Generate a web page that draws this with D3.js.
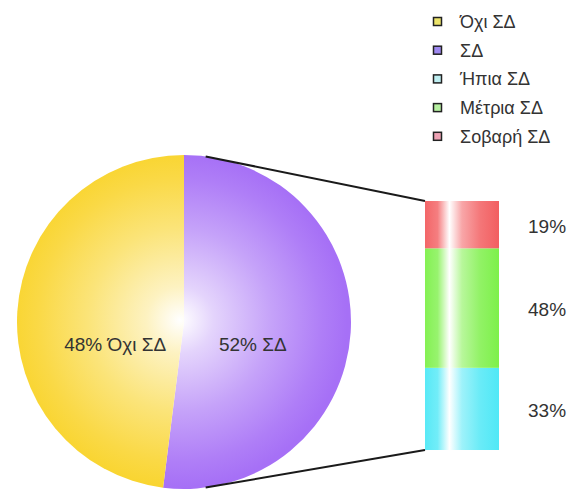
<!DOCTYPE html>
<html>
<head>
<meta charset="utf-8">
<script src="https://cdn.jsdelivr.net/npm/d3@7"></script>
<style>
  body { margin: 0; background: #fff; }
  svg { display: block; font-family: "Liberation Sans", Arial, sans-serif; }
</style>
</head>
<body>
<svg id="chart"></svg>
<script>
var width = 569;
var height = 491;

// main pie
var pieCats = ["Όχι ΣΔ", "ΣΔ"];
var pieVals = [48, 52];
var pieColors = ["#f9d531", "#a670f6"];

// breakdown of ΣΔ (bottom to top)
var barCats = ["Ήπια ΣΔ", "Μέτρια ΣΔ", "Σοβαρή ΣΔ"];
var barVals = [33, 48, 19];
var barColors = ["#4fe8f6", "#7df04a", "#f25e60"];

// legend
var legendCats = ["Όχι ΣΔ", "ΣΔ", "Ήπια ΣΔ", "Μέτρια ΣΔ", "Σοβαρή ΣΔ"];
var legendColors = ["#ece46a", "#9e88f0", "#bfeff2", "#b6f0a0", "#eea2b4"];

var svg = d3.select("#chart").attr("width", width).attr("height", height);
var defs = svg.append("defs");

var cx = 184, cy = 322, r = 167;

// radial gradients for the pie (coords are relative to the pie group)
pieColors.forEach(function (c, i) {
    var g = defs.append("radialGradient")
        .attr("id", "pg" + i)
        .attr("gradientUnits", "userSpaceOnUse")
        .attr("cx", -4).attr("cy", -2).attr("r", r);
    var mix = d3.interpolateRgb("#ffffff", c);
    [[0, 0], [0.2, 0.3], [0.55, 0.65], [0.85, 0.9], [1, 1]].forEach(function (s) {
        g.append("stop").attr("offset", s[0]).attr("stop-color", mix(s[1]));
    });
});

// pie: ΣΔ starts at 12 o'clock going clockwise, Όχι ΣΔ fills the rest
var pie = d3.pie().sort(null).value(function (i) { return pieVals[i]; });
var arcs = pie([1, 0]);
var arc = d3.arc().innerRadius(0).outerRadius(r);

var pieG = svg.append("g").attr("transform", "translate(" + cx + "," + cy + ")");
pieG.selectAll("path")
    .data(arcs)
    .enter()
    .append("path")
    .attr("d", arc)
    .attr("fill", function (d) { return "url(#pg" + d.data + ")"; });

var labelArc = d3.arc().innerRadius(69).outerRadius(69);
pieG.selectAll("text")
    .data(arcs)
    .enter()
    .append("text")
    .attr("x", function (d) { return labelArc.centroid(d)[0]; })
    .attr("y", 29)
    .attr("text-anchor", "middle")
    .style("font-size", "19px")
    .style("fill", "#333")
    .text(function (d) { return pieVals[d.data] + "% " + pieCats[d.data]; });

// stacked bar
var barX = 425, barW = 74;
var y = d3.scaleLinear().domain([0, 100]).range([450, 201]);
var stack = [];
var acc = 0;
barVals.forEach(function (v, i) {
    stack.push({ i: i, y0: acc, y1: acc + v });
    acc += v;
});

barColors.forEach(function (c, i) {
    var g = defs.append("linearGradient")
        .attr("id", "bg" + i)
        .attr("x1", 0).attr("x2", 1).attr("y1", 0).attr("y2", 0);
    var mix = d3.interpolateRgb("#ffffff", c);
    [[0, 0.95], [0.17, 0.8], [0.33, 0], [0.5, 0.55], [0.75, 0.85], [1, 1]].forEach(function (s) {
        g.append("stop").attr("offset", s[0]).attr("stop-color", mix(s[1]));
    });
});

svg.append("g").selectAll("rect")
    .data(stack)
    .enter()
    .append("rect")
    .attr("x", barX)
    .attr("width", barW)
    .attr("y", function (d) { return y(d.y1); })
    .attr("height", function (d) { return y(d.y0) - y(d.y1); })
    .attr("fill", function (d) { return "url(#bg" + d.i + ")"; });

svg.append("g").selectAll("text")
    .data(stack)
    .enter()
    .append("text")
    .attr("x", 528)
    .attr("y", function (d) { return y((d.y0 + d.y1) / 2) + 8; })
    .style("font-size", "19px")
    .style("fill", "#333")
    .text(function (d) { return barVals[d.i] + "%"; });

// connector lines from the ΣΔ slice to the bar
var off = 0.13;
var pTop = [cx + r * Math.sin(off), cy - r * Math.cos(off)];
var pBot = [cx + r * Math.sin(Math.PI - off), cy - r * Math.cos(Math.PI - off)];
svg.append("line")
    .attr("x1", pTop[0]).attr("y1", pTop[1])
    .attr("x2", barX).attr("y2", y(100))
    .attr("stroke", "#1a1a1a").attr("stroke-width", 2);
svg.append("line")
    .attr("x1", pBot[0]).attr("y1", pBot[1])
    .attr("x2", barX).attr("y2", y(0))
    .attr("stroke", "#1a1a1a").attr("stroke-width", 2);

// legend
var leg = svg.append("g").attr("transform", "translate(433,22)");
var row = leg.selectAll("g")
    .data(legendCats)
    .enter()
    .append("g")
    .attr("transform", function (d, i) { return "translate(0," + (i * 28.7) + ")"; });
row.append("rect")
    .attr("x", 0.5).attr("y", -4.5)
    .attr("width", 8).attr("height", 8)
    .attr("fill", function (d, i) { return legendColors[i]; })
    .attr("stroke", "#222").attr("stroke-width", 1.5);
row.append("text")
    .attr("x", 27)
    .attr("y", 6)
    .style("font-size", "18px")
    .style("fill", "#333")
    .text(function (d) { return d; });
</script>
</body>
</html>
